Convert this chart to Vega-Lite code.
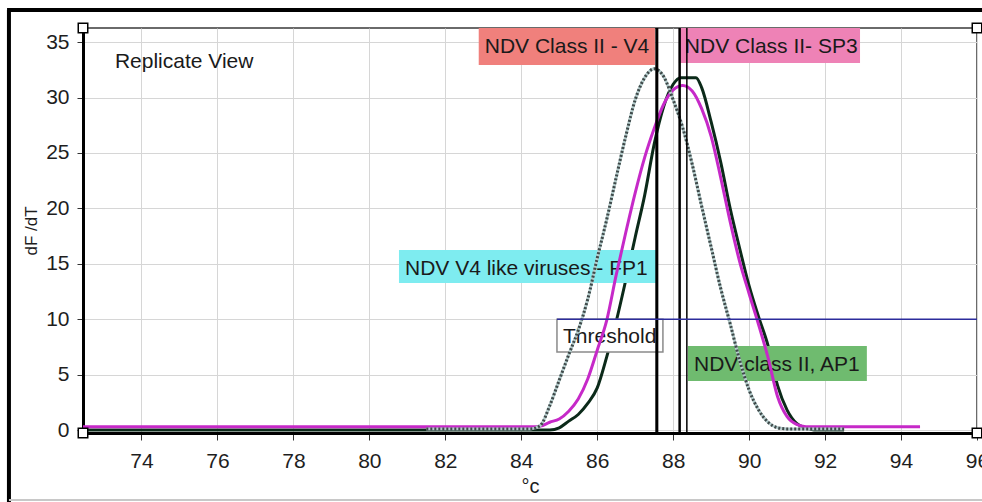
{
  "$schema": "https://vega.github.io/schema/vega-lite/v6.json",
  "width": 894,
  "height": 405,
  "autosize": {"type": "none"},
  "padding": {"left": 83, "top": 28, "right": 5, "bottom": 69},
  "background": "white",
  "config": {
    "font": "Liberation Sans",
    "view": {"stroke": "#3a3a3a", "strokeWidth": 1.5},
    "axis": {"gridColor": "#d6d6d6", "gridWidth": 1}
  },
  "datasets": {
    "melt": [
      {"sample": "AP1", "t": 72.46, "v": 0},
      {"sample": "AP1", "t": 84.75, "v": 0},
      {"sample": "AP1", "t": 85.0, "v": 0.2},
      {"sample": "AP1", "t": 85.25, "v": 0.8},
      {"sample": "AP1", "t": 85.5, "v": 1.4},
      {"sample": "AP1", "t": 85.75, "v": 2.4},
      {"sample": "AP1", "t": 86.0, "v": 3.8},
      {"sample": "AP1", "t": 86.25, "v": 6.6},
      {"sample": "AP1", "t": 86.5, "v": 9.8},
      {"sample": "AP1", "t": 86.75, "v": 13.5},
      {"sample": "AP1", "t": 87.0, "v": 17.4},
      {"sample": "AP1", "t": 87.25, "v": 21.2},
      {"sample": "AP1", "t": 87.5, "v": 25.8},
      {"sample": "AP1", "t": 87.75, "v": 29.2},
      {"sample": "AP1", "t": 88.0, "v": 31.2},
      {"sample": "AP1", "t": 88.2, "v": 31.8},
      {"sample": "AP1", "t": 88.6, "v": 31.8},
      {"sample": "AP1", "t": 88.75, "v": 30.9},
      {"sample": "AP1", "t": 89.0, "v": 27.8},
      {"sample": "AP1", "t": 89.25, "v": 24.2},
      {"sample": "AP1", "t": 89.5, "v": 20.0},
      {"sample": "AP1", "t": 89.75, "v": 16.4},
      {"sample": "AP1", "t": 90.0, "v": 13.0},
      {"sample": "AP1", "t": 90.25, "v": 10.2},
      {"sample": "AP1", "t": 90.5, "v": 7.6},
      {"sample": "AP1", "t": 90.75, "v": 4.0},
      {"sample": "AP1", "t": 91.0, "v": 1.8},
      {"sample": "AP1", "t": 91.25, "v": 0.6},
      {"sample": "AP1", "t": 91.5, "v": 0.2},
      {"sample": "AP1", "t": 91.75, "v": 0},
      {"sample": "AP1", "t": 92.5, "v": 0},

      {"sample": "SP3", "t": 72.46, "v": 0.3},
      {"sample": "SP3", "t": 84.25, "v": 0.3},
      {"sample": "SP3", "t": 84.5, "v": 0.35},
      {"sample": "SP3", "t": 84.75, "v": 0.7},
      {"sample": "SP3", "t": 85.0, "v": 1.0},
      {"sample": "SP3", "t": 85.25, "v": 1.7},
      {"sample": "SP3", "t": 85.5, "v": 2.8},
      {"sample": "SP3", "t": 85.75, "v": 4.6},
      {"sample": "SP3", "t": 86.0, "v": 7.2},
      {"sample": "SP3", "t": 86.25, "v": 9.9},
      {"sample": "SP3", "t": 86.5, "v": 14.0},
      {"sample": "SP3", "t": 86.75, "v": 17.8},
      {"sample": "SP3", "t": 87.0, "v": 21.4},
      {"sample": "SP3", "t": 87.25, "v": 24.6},
      {"sample": "SP3", "t": 87.5, "v": 27.2},
      {"sample": "SP3", "t": 87.75, "v": 29.4},
      {"sample": "SP3", "t": 88.0, "v": 30.7},
      {"sample": "SP3", "t": 88.25, "v": 31.1},
      {"sample": "SP3", "t": 88.5, "v": 30.6},
      {"sample": "SP3", "t": 88.75, "v": 29.0},
      {"sample": "SP3", "t": 89.0, "v": 26.5},
      {"sample": "SP3", "t": 89.25, "v": 22.8},
      {"sample": "SP3", "t": 89.5, "v": 18.8},
      {"sample": "SP3", "t": 89.75, "v": 15.2},
      {"sample": "SP3", "t": 90.0, "v": 12.3},
      {"sample": "SP3", "t": 90.25, "v": 9.5},
      {"sample": "SP3", "t": 90.5, "v": 6.5},
      {"sample": "SP3", "t": 90.75, "v": 3.0},
      {"sample": "SP3", "t": 91.0, "v": 1.2},
      {"sample": "SP3", "t": 91.25, "v": 0.5},
      {"sample": "SP3", "t": 91.5, "v": 0.3},
      {"sample": "SP3", "t": 94.5, "v": 0.3},

      {"sample": "V4", "t": 81.5, "v": 0.1},
      {"sample": "V4", "t": 84.25, "v": 0.1},
      {"sample": "V4", "t": 84.5, "v": 0.4},
      {"sample": "V4", "t": 84.75, "v": 2.2},
      {"sample": "V4", "t": 85.0, "v": 4.5},
      {"sample": "V4", "t": 85.25, "v": 6.8},
      {"sample": "V4", "t": 85.5, "v": 9.0},
      {"sample": "V4", "t": 85.75, "v": 11.8},
      {"sample": "V4", "t": 86.0, "v": 15.5},
      {"sample": "V4", "t": 86.25, "v": 19.0},
      {"sample": "V4", "t": 86.5, "v": 22.8},
      {"sample": "V4", "t": 86.75, "v": 26.5},
      {"sample": "V4", "t": 87.0, "v": 29.8},
      {"sample": "V4", "t": 87.25, "v": 31.8},
      {"sample": "V4", "t": 87.5, "v": 32.6},
      {"sample": "V4", "t": 87.75, "v": 31.9},
      {"sample": "V4", "t": 88.0, "v": 29.8},
      {"sample": "V4", "t": 88.25, "v": 27.3},
      {"sample": "V4", "t": 88.5, "v": 24.0},
      {"sample": "V4", "t": 88.75, "v": 20.2},
      {"sample": "V4", "t": 89.0, "v": 16.5},
      {"sample": "V4", "t": 89.25, "v": 12.8},
      {"sample": "V4", "t": 89.5, "v": 9.6},
      {"sample": "V4", "t": 89.75, "v": 6.3},
      {"sample": "V4", "t": 90.0, "v": 3.6},
      {"sample": "V4", "t": 90.25, "v": 1.8},
      {"sample": "V4", "t": 90.5, "v": 0.7},
      {"sample": "V4", "t": 90.75, "v": 0.2},
      {"sample": "V4", "t": 91.0, "v": 0.1},
      {"sample": "V4", "t": 92.5, "v": 0.1}
    ],
    "peaks": [
      {"label": "NDV Class II - V4", "tm": 87.57, "t": 82.88, "t2": 87.52, "v": 32.94, "v2": 36.28},
      {"label": "NDV Class II- SP3", "tm": 88.17, "t": 88.15, "t2": 92.92, "v": 33.12, "v2": 36.28},
      {"label": "NDV V4 like viruses - FP1", "tm": 87.57, "t": 80.78, "t2": 87.57, "v": 13.27, "v2": 16.25},
      {"label": "NDV class II, AP1", "tm": 88.36, "t": 88.39, "t2": 93.1, "v": 4.42, "v2": 7.58}
    ],
    "threshold": [
      {"label": "Threshold", "v": 10, "t": 84.94, "t2": 87.73, "vb": 7.04}
    ],
    "corners": [
      {"t": 72.46, "v": -0.27},
      {"t": 96, "v": -0.27},
      {"t": 72.46, "v": 36.28},
      {"t": 96, "v": 36.28}
    ]
  },
  "layer": [
    {
      "data": {"name": "melt"},
      "transform": [{"filter": "datum.sample === 'AP1'"}],
      "mark": {"type": "line", "color": "#0b2a19", "strokeWidth": 3, "interpolate": "monotone"},
      "encoding": {
        "x": {
          "field": "t", "type": "quantitative",
          "scale": {"domain": [72.46, 96], "nice": false, "zero": false},
          "axis": {
            "values": [74, 76, 78, 80, 82, 84, 86, 88, 90, 92, 94, 96],
            "title": "°c", "grid": true,
            "domainColor": "#000", "domainWidth": 3,
            "tickColor": "#333", "tickSize": 7,
            "labelFontSize": 21, "labelColor": "#1e1e1e", "labelPadding": 10,
            "labelFlush": false, "labelOverlap": false,
            "titleFontSize": 20, "titleFontWeight": "normal", "titleColor": "#1e1e1e", "titlePadding": 5
          }
        },
        "y": {
          "field": "v", "type": "quantitative",
          "scale": {"domain": [-0.27, 36.28], "nice": false, "zero": false},
          "axis": {
            "values": [0, 5, 10, 15, 20, 25, 30, 35],
            "title": "dF /dT", "grid": true,
            "domainColor": "#000", "domainWidth": 3,
            "tickColor": "#333", "tickSize": 6,
            "labelFontSize": 21, "labelColor": "#1e1e1e", "labelPadding": 8,
            "labelOverlap": false,
            "titleFontSize": 17, "titleFontWeight": "normal", "titleColor": "#1e1e1e", "titlePadding": 5
          }
        }
      }
    },
    {
      "data": {"values": [{"edge": "left"}]},
      "mark": {"type": "rule", "color": "#000", "strokeWidth": 4},
      "encoding": {
        "x": {"datum": 70.51, "type": "quantitative", "scale": {"domain": [72.46, 96], "nice": false, "zero": false}},
        "y": {"datum": -6.6, "type": "quantitative", "scale": {"domain": [-0.27, 36.28], "nice": false, "zero": false}},
        "y2": {"datum": 37.9}
      }
    },
    {
      "data": {"values": [{"edge": "top"}]},
      "mark": {"type": "rule", "color": "#000", "strokeWidth": 4},
      "encoding": {
        "x": {"datum": 70.46, "type": "quantitative", "scale": {"domain": [72.46, 96], "nice": false, "zero": false}},
        "x2": {"datum": 96.3},
        "y": {"datum": 37.9, "type": "quantitative", "scale": {"domain": [-0.27, 36.28], "nice": false, "zero": false}}
      }
    },
    {
      "data": {"values": [{"edge": "bottom"}]},
      "mark": {"type": "rule", "color": "#c8c8c8", "strokeWidth": 2},
      "encoding": {
        "x": {"datum": 70.51, "type": "quantitative", "scale": {"domain": [72.46, 96], "nice": false, "zero": false}},
        "x2": {"datum": 96.3},
        "y": {"datum": -6.32, "type": "quantitative", "scale": {"domain": [-0.27, 36.28], "nice": false, "zero": false}}
      }
    },
    {
      "data": {"name": "peaks"},
      "mark": {"type": "rect"},
      "encoding": {
        "x": {"field": "t", "type": "quantitative", "scale": {"domain": [72.46, 96], "nice": false, "zero": false}},
        "x2": {"field": "t2"},
        "y": {"field": "v", "type": "quantitative", "scale": {"domain": [-0.27, 36.28], "nice": false, "zero": false}},
        "y2": {"field": "v2"},
        "color": {
          "field": "label", "type": "nominal", "legend": null,
          "scale": {
            "domain": ["NDV Class II - V4", "NDV Class II- SP3", "NDV V4 like viruses - FP1", "NDV class II, AP1"],
            "range": ["#f0807c", "#ee82b6", "#7eecf0", "#6fbb6f"]
          }
        }
      }
    },
    {
      "data": {"name": "threshold"},
      "mark": {"type": "rect", "fill": "#ffffff", "stroke": "#8a8a8a", "strokeWidth": 1.5},
      "encoding": {
        "x": {"field": "t", "type": "quantitative", "scale": {"domain": [72.46, 96], "nice": false, "zero": false}},
        "x2": {"field": "t2"},
        "y": {"field": "vb", "type": "quantitative", "scale": {"domain": [-0.27, 36.28], "nice": false, "zero": false}},
        "y2": {"field": "v"}
      }
    },
    {
      "data": {"name": "peaks"},
      "mark": {"type": "text", "align": "left", "baseline": "top", "dx": 6, "dy": 8, "fontSize": 21, "color": "#1a1a1a"},
      "encoding": {
        "x": {"field": "t", "type": "quantitative", "scale": {"domain": [72.46, 96], "nice": false, "zero": false}},
        "y": {"field": "v2", "type": "quantitative", "scale": {"domain": [-0.27, 36.28], "nice": false, "zero": false}},
        "text": {"field": "label"}
      }
    },
    {
      "data": {"name": "threshold"},
      "mark": {"type": "text", "align": "left", "baseline": "top", "dx": 6, "dy": 7, "fontSize": 21, "color": "#1a1a1a"},
      "encoding": {
        "x": {"field": "t", "type": "quantitative", "scale": {"domain": [72.46, 96], "nice": false, "zero": false}},
        "y": {"field": "v", "type": "quantitative", "scale": {"domain": [-0.27, 36.28], "nice": false, "zero": false}},
        "text": {"field": "label"}
      }
    },
    {
      "data": {"values": [{"caption": "Replicate View", "t": 73.3, "v": 33.2}]},
      "mark": {"type": "text", "align": "left", "baseline": "middle", "fontSize": 21, "color": "#1a1a1a"},
      "encoding": {
        "x": {"field": "t", "type": "quantitative", "scale": {"domain": [72.46, 96], "nice": false, "zero": false}},
        "y": {"field": "v", "type": "quantitative", "scale": {"domain": [-0.27, 36.28], "nice": false, "zero": false}},
        "text": {"field": "caption"}
      }
    },
    {
      "data": {"name": "melt"},
      "transform": [{"filter": "datum.sample === 'SP3'"}],
      "mark": {"type": "line", "color": "#c629c8", "strokeWidth": 3, "interpolate": "monotone"},
      "encoding": {
        "x": {"field": "t", "type": "quantitative", "scale": {"domain": [72.46, 96], "nice": false, "zero": false}},
        "y": {"field": "v", "type": "quantitative", "scale": {"domain": [-0.27, 36.28], "nice": false, "zero": false}}
      }
    },
    {
      "data": {"name": "melt"},
      "transform": [{"filter": "datum.sample === 'V4'"}],
      "mark": {"type": "line", "color": "#b4cccc", "strokeWidth": 3, "interpolate": "monotone"},
      "encoding": {
        "x": {"field": "t", "type": "quantitative", "scale": {"domain": [72.46, 96], "nice": false, "zero": false}},
        "y": {"field": "v", "type": "quantitative", "scale": {"domain": [-0.27, 36.28], "nice": false, "zero": false}}
      }
    },
    {
      "data": {"name": "melt"},
      "transform": [{"filter": "datum.sample === 'V4'"}],
      "mark": {"type": "line", "color": "#3f4949", "strokeWidth": 3, "strokeDash": [2, 2], "interpolate": "monotone"},
      "encoding": {
        "x": {"field": "t", "type": "quantitative", "scale": {"domain": [72.46, 96], "nice": false, "zero": false}},
        "y": {"field": "v", "type": "quantitative", "scale": {"domain": [-0.27, 36.28], "nice": false, "zero": false}}
      }
    },
    {
      "data": {"name": "peaks"},
      "mark": {"type": "rule", "color": "#000"},
      "encoding": {
        "x": {"field": "tm", "type": "quantitative", "scale": {"domain": [72.46, 96], "nice": false, "zero": false}},
        "strokeWidth": {
          "field": "label", "type": "nominal", "legend": null,
          "scale": {
            "domain": ["NDV Class II - V4", "NDV Class II- SP3", "NDV V4 like viruses - FP1", "NDV class II, AP1"],
            "range": [3, 1.5, 3, 1.5]
          }
        }
      }
    },
    {
      "data": {"name": "threshold"},
      "mark": {"type": "rule", "color": "#2c2c9c", "strokeWidth": 1.5},
      "encoding": {
        "x": {"field": "t", "type": "quantitative", "scale": {"domain": [72.46, 96], "nice": false, "zero": false}},
        "x2": {"datum": 96},
        "y": {"field": "v", "type": "quantitative", "scale": {"domain": [-0.27, 36.28], "nice": false, "zero": false}}
      }
    },
    {
      "data": {"name": "corners"},
      "mark": {"type": "point", "shape": "square", "size": 90, "filled": true, "fill": "#ffffff", "stroke": "#000", "strokeWidth": 1.5, "opacity": 1},
      "encoding": {
        "x": {"field": "t", "type": "quantitative", "scale": {"domain": [72.46, 96], "nice": false, "zero": false}},
        "y": {"field": "v", "type": "quantitative", "scale": {"domain": [-0.27, 36.28], "nice": false, "zero": false}}
      }
    }
  ]
}
